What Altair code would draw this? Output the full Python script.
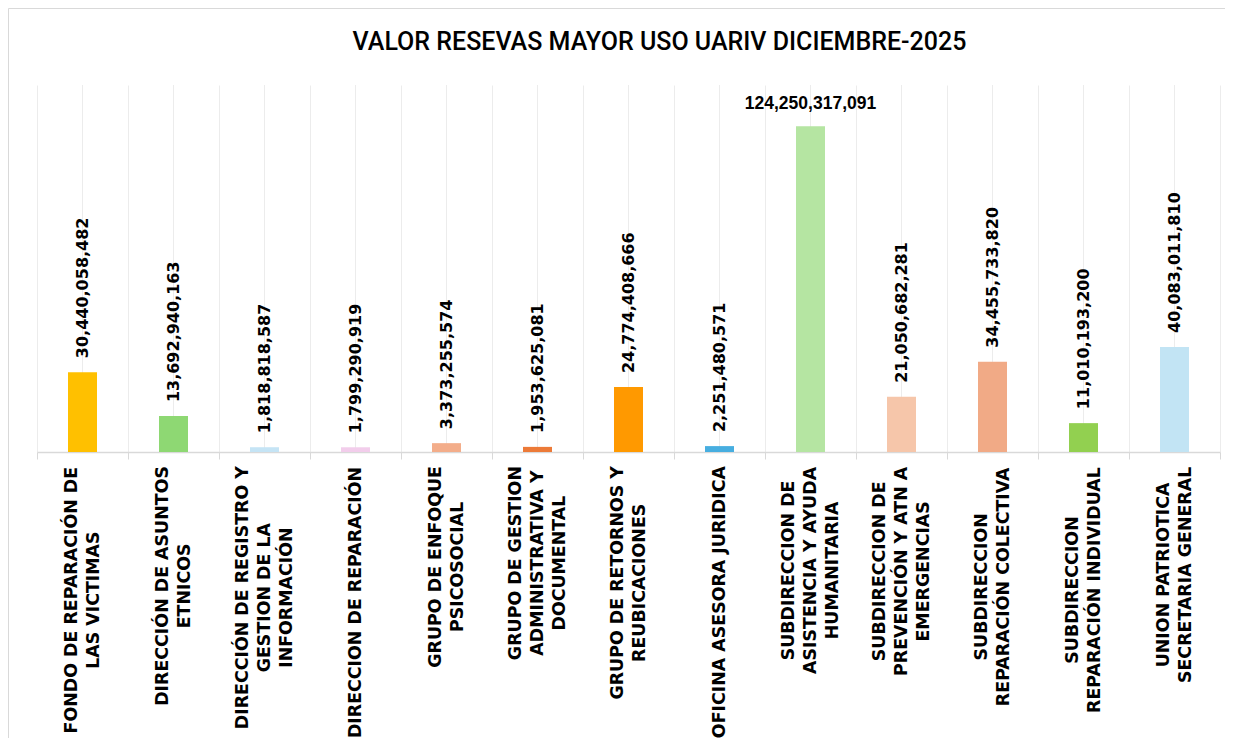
import altair as alt
import pandas as pd

# ---- data ----
labels = [
    "FONDO DE REPARACIÓN DE|LAS VICTIMAS",
    "DIRECCIÓN DE ASUNTOS|ETNICOS",
    "DIRECCIÓN DE REGISTRO Y|GESTION DE LA|INFORMACIÓN",
    "DIRECCION DE REPARACIÓN",
    "GRUPO DE ENFOQUE|PSICOSOCIAL",
    "GRUPO DE GESTION|ADMINISTRATIVA Y|DOCUMENTAL",
    "GRUPO DE RETORNOS Y|REUBICACIONES",
    "OFICINA ASESORA JURIDICA",
    "SUBDIRECCION DE|ASISTENCIA Y AYUDA|HUMANITARIA",
    "SUBDIRECCION DE|PREVENCIÓN Y ATN A|EMERGENCIAS",
    "SUBDIRECCION|REPARACIÓN COLECTIVA",
    "SUBDIRECCION|REPARACIÓN INDIVIDUAL",
    "UNION PATRIOTICA|SECRETARIA GENERAL",
]
values = [
    30440058482, 13692940163, 1818818587, 1799290919, 3373255574,
    1953625081, 24774408666, 2251480571, 124250317091, 21050682281,
    34455733820, 11010193200, 40083011810,
]
colors = [
    "#FFC000", "#8ED873", "#C5E4F5", "#F2CDEB", "#F3AD8A",
    "#EC7A38", "#FF9900", "#47AEE0", "#B5E5A2", "#F6C6AA",
    "#F1AA86", "#92D050", "#C2E4F4",
]
title_text = "VALOR RESEVAS MAYOR USO UARIV DICIEMBRE-2025"

# ---- layout ----
W, H = 1183, 367
PAD_L, PAD_T, PAD_R, PAD_B = 29, 77, 5, 286
LABEL_FS = 17.4
LABEL_LH = 22
LABEL_FONT = "DejaVu Sans"

# approximate DejaVu Sans Bold advance widths (em)
ADV = {
    " ": 0.348, "A": 0.774, "B": 0.762, "C": 0.734, "D": 0.830, "E": 0.683,
    "F": 0.683, "G": 0.821, "H": 0.837, "I": 0.372, "J": 0.372, "K": 0.775,
    "L": 0.637, "M": 0.995, "N": 0.837, "O": 0.850, "P": 0.733, "Q": 0.850,
    "R": 0.770, "S": 0.720, "T": 0.682, "U": 0.812, "V": 0.774, "W": 1.103,
    "X": 0.771, "Y": 0.724, "Z": 0.695,
}
BASE = {"Á": "A", "É": "E", "Í": "I", "Ó": "O", "Ú": "U", "Ñ": "N"}


def text_w(s, fs):
    return sum(ADV.get(BASE.get(c, c), 0.7) for c in s) * fs


ypos = [H + 14 + max(text_w(l, LABEL_FS) for l in lab.split("|")) / 2 for lab in labels]
nlines = [len(lab.split("|")) for lab in labels]

df = pd.DataFrame({"label": labels, "value": values, "color": colors,
                   "ypos": ypos, "nlines": nlines})

x_axis = alt.Axis(
    title=None, labels=False, tickBand="extent", grid=True, gridColor="#ececec",
    gridWidth=1, ticks=True, tickSize=7, tickColor="#d9d9d9",
    domainColor="#d9d9d9", domainWidth=1.5,
)
x_scale = alt.Scale(paddingInner=0, paddingOuter=0)
y_scale = alt.Scale(domain=[0, 140e9], nice=False, zero=True)

base = alt.Chart(df)

center_rules = base.mark_rule(color="#ececec", strokeWidth=1).encode(
    x=alt.X("label:N", sort=labels, scale=x_scale, axis=x_axis, bandPosition=0.5),
    y=alt.value(0),
    y2=alt.value(H),
)

bars = base.mark_bar(size=29).encode(
    x=alt.X("label:N", sort=labels, scale=x_scale, axis=x_axis),
    y=alt.Y("value:Q", scale=y_scale, axis=None),
    color=alt.Color("color:N", scale=None),
)

vlabels = base.transform_joinaggregate(maxv="max(value)").transform_filter(
    "datum.value < datum.maxv"
).mark_text(
    angle=270, align="left", baseline="middle", dx=14,
    font="DejaVu Sans", fontWeight="bold", fontSize=16, color="#000000",
).encode(
    x=alt.X("label:N", sort=labels),
    y=alt.Y("value:Q", scale=y_scale, axis=None),
    text=alt.Text("value:Q", format=",.0f"),
)

toplabel = base.transform_joinaggregate(maxv="max(value)").transform_filter(
    "datum.value == datum.maxv"
).mark_text(
    align="center", baseline="alphabetic", dy=-17,
    font="Liberation Sans", fontWeight="bold", fontSize=17.5, color="#000000",
).encode(
    x=alt.X("label:N", sort=labels),
    y=alt.Y("value:Q", scale=y_scale, axis=None),
    text=alt.Text("value:Q", format=",.0f"),
)


def cat_layer(n):
    return base.transform_filter(f"datum.nlines == {n}").transform_calculate(
        lines="split(datum.label, '|')"
    ).mark_text(
        angle=270, align="center", baseline="middle", lineHeight=LABEL_LH,
        dy=-(n - 1) * LABEL_LH / 2,
        font=LABEL_FONT, fontWeight="bold", fontSize=LABEL_FS, color="#000000",
    ).encode(
        x=alt.X("label:N", sort=labels),
        y=alt.Y("ypos:Q", scale=None, axis=None),
        text=alt.Text("lines:N"),
    )


one = pd.DataFrame({"a": [0]})
border_top = alt.Chart(one).mark_rule(color="#d9d9d9", strokeWidth=1).encode(
    x=alt.value(-PAD_L + 0.5), x2=alt.value(W + PAD_R), y=alt.value(-PAD_T + 0.5)
)
border_left = alt.Chart(one).mark_rule(color="#d9d9d9", strokeWidth=1).encode(
    x=alt.value(-PAD_L + 0.5), y=alt.value(-PAD_T + 0.5), y2=alt.value(H + PAD_B)
)

chart = alt.layer(
    border_top, border_left, center_rules, bars, vlabels, toplabel,
    cat_layer(1), cat_layer(2), cat_layer(3),
).resolve_scale(y="independent").properties(
    width=W,
    height=H,
    title=alt.Title(
        title_text, font="Roboto", fontSize=25, fontWeight=500, color="#000000",
        anchor="middle", dx=31, offset=-47,
    ),
    autosize=alt.AutoSizeParams(type="none"),
    padding={"left": PAD_L, "top": PAD_T, "right": PAD_R, "bottom": PAD_B},
    background="#ffffff",
).configure_view(stroke=None)

chart.save("out.html", embed_options={"renderer": "svg", "actions": False})
